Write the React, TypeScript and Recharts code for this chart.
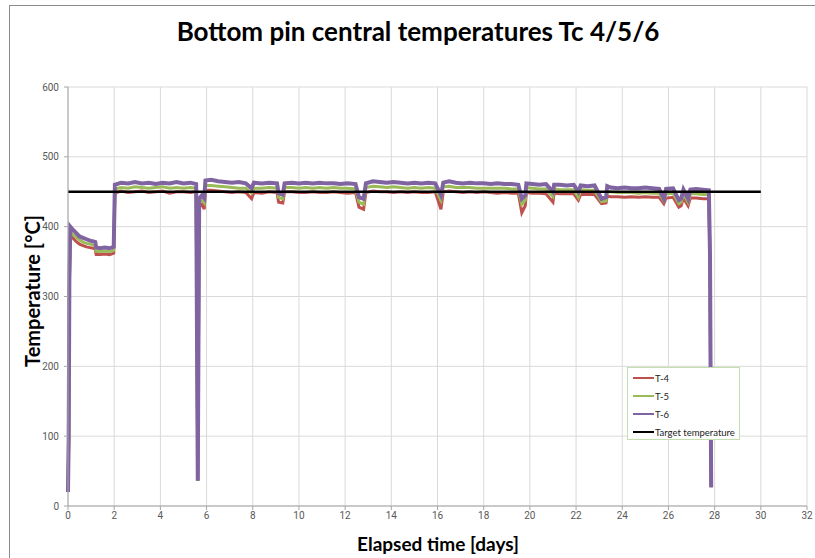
import { CartesianGrid, Legend, Line, LineChart, XAxis, YAxis } from "recharts";

// elapsed time [days]
const days = [
  0, 0.03, 0.06, 0.1, 0.2, 0.35, 0.5, 0.65, 0.8, 0.95, 1.1, 1.18, 1.22, 1.4, 1.6, 1.8, 1.98,
  2.03, 2.3, 2.6, 2.9, 3.2, 3.5, 3.8, 4.1, 4.4, 4.7, 5.0, 5.3, 5.55, 5.62, 5.68, 5.8, 5.9,
  5.95, 6.2, 6.5, 6.8, 7.1, 7.4, 7.7, 7.95, 8.05, 8.4, 8.7, 9.05, 9.12, 9.3, 9.38, 9.7, 10.0,
  10.3, 10.6, 10.9, 11.2, 11.5, 11.8, 12.1, 12.45, 12.6, 12.8, 12.9, 13.2, 13.5, 13.8, 14.1,
  14.4, 14.7, 15.0, 15.3, 15.6, 15.9, 16.15, 16.25, 16.5, 16.8, 17.1, 17.4, 17.7, 18.0, 18.3,
  18.6, 18.9, 19.2, 19.5, 19.65, 19.8, 19.85, 20.1, 20.4, 20.7, 21.0, 21.05, 21.3, 21.6, 21.9,
  22.1, 22.2, 22.5, 22.8, 23.1, 23.3, 23.35, 23.5, 23.8, 24.1, 24.4, 24.7, 25.0, 25.3, 25.6,
  25.8, 25.9, 26.2, 26.45, 26.55, 26.65, 26.85, 26.95, 27.2, 27.5, 27.75, 27.8, 27.85,
];

const t6 = [
  20, 100, 330, 400, 396, 391, 386, 384, 382, 380, 379, 378, 370, 369, 370, 369, 371,
  460, 463, 462, 464, 462, 463, 461, 463, 462, 464, 462, 463, 461, 36, 440, 445, 441,
  466, 467, 465, 464, 463, 464, 462, 455, 463, 462, 463, 462, 448, 446, 462, 463, 462,
  463, 462, 463, 462, 462, 461, 462, 461, 442, 440, 462, 465, 464, 463, 464,
  463, 462, 463, 462, 463, 462, 445, 463, 465, 463, 462, 463, 462, 462, 461,
  462, 461, 461, 460, 440, 445, 462, 461, 460, 461, 450, 460, 460, 459, 460,
  450, 459, 458, 459, 440, 442, 458, 456, 455, 456, 455, 455, 456, 455, 454,
  440, 454, 455, 438, 440, 453, 440, 453, 454, 453, 452, 360, 27,
];

const t5 = [
  20, 95, 320, 393, 389, 385, 381, 378, 376, 375, 374, 373, 365, 364, 365, 364, 366,
  454, 456, 455, 457, 456, 455, 456, 457, 455, 456, 455, 456, 455, 36, 435, 438, 434,
  459, 459, 458, 457, 456, 455, 455, 448, 455, 455, 456, 455, 442, 440, 456, 456, 455,
  456, 455, 456, 455, 456, 455, 455, 454, 435, 432, 456, 458, 457, 456, 457,
  456, 455, 456, 455, 456, 455, 438, 457, 458, 456, 456, 456, 455, 455, 455,
  455, 455, 454, 454, 432, 438, 456, 455, 454, 454, 443, 454, 453, 453, 453,
  442, 453, 452, 452, 436, 437, 450, 450, 449, 449, 449, 448, 449, 448, 448,
  437, 447, 448, 433, 435, 447, 435, 447, 447, 446, 446, 355, 27,
];

const t4 = [
  20, 92, 315, 388, 384, 379, 375, 373, 371, 370, 369, 368, 360, 360, 361, 360, 362,
  448, 451, 449, 450, 451, 449, 450, 451, 448, 450, 450, 449, 450, 36, 428, 432, 425,
  452, 452, 451, 450, 449, 450, 449, 440, 449, 448, 450, 449, 435, 434, 450, 450, 449,
  449, 450, 449, 449, 450, 449, 448, 449, 428, 425, 449, 451, 450, 450, 449,
  450, 449, 450, 449, 449, 450, 425, 450, 451, 450, 449, 450, 449, 450, 449,
  448, 449, 448, 448, 420, 430, 449, 448, 448, 447, 435, 448, 447, 447, 447,
  438, 446, 446, 446, 433, 434, 444, 443, 443, 442, 443, 442, 443, 442, 442,
  433, 441, 442, 428, 430, 441, 430, 441, 441, 440, 440, 350, 27,
];

const targetDays = [0, 30];
const targetTemps = [450, 450];

const xTicks = [0, 2, 4, 6, 8, 10, 12, 14, 16, 18, 20, 22, 24, 26, 28, 30, 32];
const yTicks = [0, 100, 200, 300, 400, 500, 600];

const seriesNames = ["T-4", "T-5", "T-6", "Target temperature"];
const seriesColors = ["#c0504d", "#9bbb59", "#8064a2", "#000000"];

const data = days.map((d, i) => ({ day: d, t4: t4[i], t5: t5[i], t6: t6[i] }));
const targetData = targetDays.map((d, i) => ({ day: d, target: targetTemps[i] }));

const tickStyle = { fill: "#595959", fontSize: 10, fontFamily: "'Liberation Sans Narrow', Roboto, sans-serif" };
const boldFont = "Lato, 'Open Sans', sans-serif";

function LegendBox() {
  return (
    <div
      style={{
        width: 113,
        height: 73,
        border: "1px solid #c4dfae",
        background: "#fff",
        boxSizing: "border-box",
        paddingTop: 1,
        fontFamily: "Lato, sans-serif",
        fontSize: 9.5,
        color: "#222",
      }}
    >
      {seriesNames.map((name, i) => (
        <div key={name} style={{ display: "flex", alignItems: "center", height: 18 }}>
          <span style={{ display: "inline-block", marginLeft: 5, width: 21, height: 2.5, background: seriesColors[i] }} />
          <span style={{ marginLeft: 1 }}>{name}</span>
        </div>
      ))}
    </div>
  );
}

export default function App() {
  return (
    <div style={{ position: "absolute", left: 0, top: 0, width: 815, height: 558, background: "#fff", overflow: "hidden" }}>
      <div style={{ position: "absolute", left: 9, top: 5, width: 820, height: 570, border: "1px solid #8c8c8c" }} />
      <LineChart width={815} height={558} data={data} margin={{ top: 87, right: 8, bottom: 22, left: 30 }}>
        <CartesianGrid stroke="#d9d9d9" strokeWidth={1} />
        <XAxis
          dataKey="day"
          type="number"
          domain={[0, 32]}
          ticks={xTicks}
          height={30}
          tick={tickStyle}
          tickSize={4}
          stroke="#a6a6a6"
          allowDuplicatedCategory={false}
        />
        <YAxis
          type="number"
          domain={[0, 600]}
          ticks={yTicks}
          width={38}
          tick={tickStyle}
          tickSize={4}
          tickMargin={5}
          stroke="#a6a6a6"
        />
        <Legend
          layout="vertical"
          align="center"
          verticalAlign="middle"
          wrapperStyle={{ left: 627, top: 367 }}
          content={() => <LegendBox />}
        />
        <Line dataKey="t4" stroke={seriesColors[0]} strokeWidth={3} dot={false} isAnimationActive={false} />
        <Line dataKey="t5" stroke={seriesColors[1]} strokeWidth={3} dot={false} isAnimationActive={false} />
        <Line dataKey="t6" stroke={seriesColors[2]} strokeWidth={4} dot={false} isAnimationActive={false} />
        <Line data={targetData} dataKey="target" stroke={seriesColors[3]} strokeWidth={2.5} dot={false} isAnimationActive={false} />
      </LineChart>
      <div
        style={{
          position: "absolute",
          left: 418,
          top: 15,
          transform: "translateX(-50%)",
          whiteSpace: "nowrap",
          fontFamily: boldFont,
          fontWeight: 700,
          fontSize: 26,
          color: "#000",
        }}
      >
        Bottom pin central temperatures Tc 4/5/6
      </div>
      <div
        style={{
          position: "absolute",
          left: 32,
          top: 291,
          transform: "translate(-50%, -50%) rotate(-90deg)",
          whiteSpace: "nowrap",
          fontFamily: boldFont,
          fontWeight: 700,
          fontSize: 20,
          color: "#000",
        }}
      >
        Temperature [°C]
      </div>
      <div
        style={{
          position: "absolute",
          left: 438,
          top: 543,
          transform: "translate(-50%, -50%)",
          whiteSpace: "nowrap",
          fontFamily: boldFont,
          fontWeight: 700,
          fontSize: 19,
          color: "#000",
        }}
      >
        Elapsed time [days]
      </div>
    </div>
  );
}
